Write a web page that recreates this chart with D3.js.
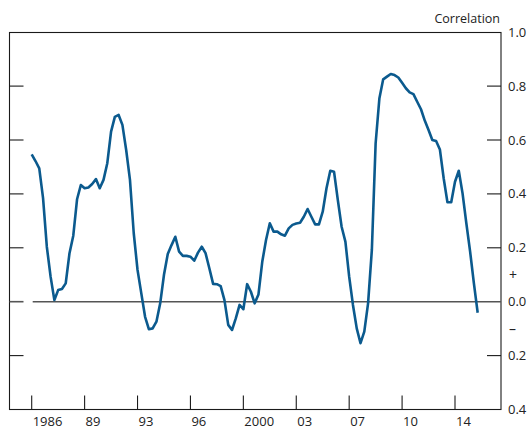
<!DOCTYPE html>
<html>
<head>
<meta charset="utf-8">
<script src="https://cdn.jsdelivr.net/npm/d3@7"></script>
<style>
  html, body { margin: 0; padding: 0; background: #fff; }
  svg { display: block; }
  text { font-family: "Open Sans", "DejaVu Sans", sans-serif; fill: #222; }
</style>
</head>
<body>
<svg id="chart" width="532" height="429"></svg>
<script>
// ---- Data ----
const startYear = 1986;              // first quarter of the series (1986 Q1)
const quarterStep = 0.25;            // quarterly observations
const correlation = [
  0.547, 0.522, 0.495, 0.385, 0.204, 0.093, 0.006, 0.043, 0.047, 0.068,
  0.180, 0.245, 0.380, 0.433, 0.421, 0.424, 0.437, 0.455, 0.421, 0.452,
  0.514, 0.631, 0.686, 0.693, 0.656, 0.563, 0.452, 0.254, 0.118, 0.031,
  -0.056, -0.102, -0.099, -0.074, -0.006, 0.100, 0.177, 0.210, 0.241, 0.186,
  0.170, 0.170, 0.167, 0.152, 0.182, 0.204, 0.180, 0.124, 0.066, 0.065,
  0.058, 0.006, -0.086, -0.105, -0.062, -0.012, -0.028, 0.065, 0.037, -0.006,
  0.027, 0.148, 0.229, 0.291, 0.260, 0.260, 0.250, 0.245, 0.272, 0.285,
  0.290, 0.293, 0.315, 0.344, 0.315, 0.287, 0.287, 0.334, 0.421, 0.486,
  0.482, 0.377, 0.278, 0.223, 0.093, -0.012, -0.099, -0.154, -0.111, -0.006,
  0.192, 0.588, 0.755, 0.825, 0.835, 0.845, 0.841, 0.832, 0.812, 0.792,
  0.777, 0.770, 0.742, 0.714, 0.672, 0.637, 0.600, 0.596, 0.565, 0.458,
  0.369, 0.369, 0.445, 0.486, 0.402, 0.291, 0.186, 0.068, -0.041
];
const xTickYears  = [1986, 1989.5, 1993, 1996.5, 2000, 2003.5, 2007, 2010.5, 2014];
const xTickLabels = ["1986", "89", "93", "96", "2000", "03", "07", "10", "14"];
const yTicks      = [1.0, 0.8, 0.6, 0.4, 0.2, 0.0, -0.2, -0.4];
const yTickLabels = ["1.0", "0.8", "0.6", "0.4", "0.2", "0.0", "0.2", "0.4"];
const yTitle = "Correlation";

// ---- Layout ----
const frame = { left: 9.5, right: 501, top: 32.5, bottom: 409.5 };
const svg = d3.select("#chart");

const x = d3.scaleLinear().domain([1986, 2014]).range([31.7, 455]);
const y = d3.scaleLinear().domain([-0.4, 1.0]).range([409.5, 32.2]);

const series = correlation.map((v, i) => ({ t: startYear + i * quarterStep, v }));

// Frame
svg.append("rect")
  .attr("x", frame.left).attr("y", frame.top)
  .attr("width", frame.right - frame.left).attr("height", frame.bottom - frame.top)
  .attr("fill", "none").attr("stroke", "#1a1a1a").attr("stroke-width", 1.1);

// Left & right inward ticks (skip 1.0 and -0.4 which coincide with frame)
const innerTicks = yTicks.filter(v => v < 1.0 && v > -0.4);
const tickLen = 14;
svg.append("g").selectAll("line").data(innerTicks).join("line")
  .attr("x1", frame.left).attr("x2", frame.left + tickLen)
  .attr("y1", d => y(d)).attr("y2", d => y(d))
  .attr("stroke", d => d === 0 ? "#555" : "#1a1a1a").attr("stroke-width", d => d === 0 ? 1.6 : 1.1);
svg.append("g").selectAll("line").data(innerTicks.filter(d => d !== 0)).join("line")
  .attr("x1", frame.right - tickLen).attr("x2", frame.right)
  .attr("y1", d => y(d)).attr("y2", d => y(d))
  .attr("stroke", "#1a1a1a").attr("stroke-width", 1.1);

// Zero line
svg.append("line")
  .attr("x1", x(1986) + 1).attr("x2", frame.right)
  .attr("y1", y(0)).attr("y2", y(0))
  .attr("stroke", "#555").attr("stroke-width", 1.6);

// Bottom ticks
svg.append("g").selectAll("line").data(xTickYears).join("line")
  .attr("x1", d => x(d)).attr("x2", d => x(d))
  .attr("y1", frame.bottom).attr("y2", frame.bottom - 14)
  .attr("stroke", "#1a1a1a").attr("stroke-width", 1.1);

// Bottom tick labels
svg.append("g").selectAll("text").data(xTickYears).join("text")
  .attr("x", d => x(d) + 1).attr("y", 426)
  .attr("font-size", 13).attr("text-anchor", "start")
  .text((d, i) => xTickLabels[i]);

// Right axis labels
svg.append("g").selectAll("text").data(yTicks).join("text")
  .attr("x", 508).attr("y", d => y(d)).attr("dy", "0.35em")
  .attr("font-size", 13).attr("text-anchor", "start")
  .text((d, i) => yTickLabels[i]);

// + / – signs
svg.append("text").attr("x", 509).attr("y", y(0.1)).attr("dy", "0.35em")
  .attr("font-size", 14).text("+");
svg.append("text").attr("x", 509).attr("y", y(-0.1)).attr("dy", "0.35em")
  .attr("font-size", 14).text("–");

// Axis title
svg.append("text").attr("x", 500).attr("y", 23)
  .attr("font-size", 12.5).attr("text-anchor", "end").text(yTitle);

// Line
const line = d3.line().x(d => x(d.t)).y(d => y(d.v));
svg.append("path").datum(series)
  .attr("d", line)
  .attr("fill", "none").attr("stroke", "#0b5a8e").attr("stroke-width", 2.6)
  .attr("stroke-linejoin", "round").attr("stroke-linecap", "butt");
</script>
</body>
</html>
